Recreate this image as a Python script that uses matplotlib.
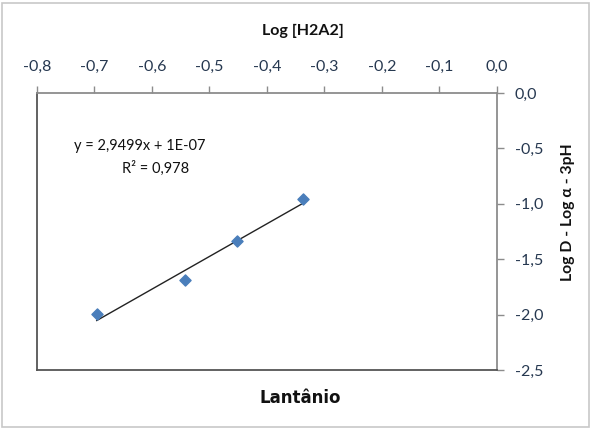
import numpy as np
import matplotlib.pyplot as plt
from matplotlib.patches import Rectangle
from matplotlib.ticker import FuncFormatter

# data
log_h2a2 = [-0.696, -0.543, -0.452, -0.337]
log_d = [-1.99, -1.69, -1.336, -0.957]
slope = 2.9499
intercept = 1e-07
equation = "y = 2,9499x + 1E-07"
r_squared = "R² = 0,978"

plt.rcParams["font.family"] = ["Lato", "DejaVu Sans"]
text_color = "#263850"
axis_color = "#8c8c8c"

fig = plt.figure(figsize=(5.91, 4.30), dpi=100)
fig.patches.append(Rectangle((0.004, 0.006), 0.992, 0.988, transform=fig.transFigure,
                             fill=False, edgecolor="#c8c8c8", linewidth=1.2))
ax = fig.add_axes([0.0626, 0.1395, 0.778, 0.644])

ax.scatter(log_h2a2, log_d, marker="D", s=32, color="#4a7ebb", zorder=3)
xs = np.array([min(log_h2a2), max(log_h2a2)])
ax.plot(xs, slope * xs + intercept, color="#222222", linewidth=1, zorder=2)

ax.set_xlim(-0.8, 0.0)
ax.set_ylim(-2.5, 0.0)
ax.set_xticks(np.arange(-0.8, 0.01, 0.1))
ax.set_yticks(np.arange(-2.5, 0.01, 0.5))
fmt = FuncFormatter(lambda v, p: f"{v:.1f}".replace(".", ",").replace("-0,0", "0,0"))
ax.xaxis.set_major_formatter(fmt)
ax.yaxis.set_major_formatter(fmt)

ax.xaxis.tick_top()
ax.yaxis.tick_right()
ax.tick_params(axis="x", direction="out", length=5, width=1, color=axis_color,
               labelcolor=text_color, labelsize=11.5, pad=9)
ax.tick_params(axis="y", direction="out", length=5, width=1, color=axis_color,
               labelcolor=text_color, labelsize=11.5, pad=8)

for side in ["left", "bottom"]:
    ax.spines[side].set_color("#555555")
    ax.spines[side].set_linewidth(1.3)
for side in ["top", "right"]:
    ax.spines[side].set_color(axis_color)
    ax.spines[side].set_linewidth(1.3)

ax.xaxis.set_label_position("top")
ax.set_xlabel("Log [H2A2]", fontsize=11.5, fontweight="bold", color="#111111")
ax.xaxis.label.set_va("center")
ax.xaxis.set_label_coords(0.578, 1.224)
ax.yaxis.set_label_position("right")
ax.set_ylabel("Log D - Log α - 3pH", fontsize=11.3, fontweight="bold",
              color="#111111", rotation=90)
ax.yaxis.label.set_va("center")
ax.yaxis.set_label_coords(1.154, 0.57)

ax.text(0.224, 0.809, equation, transform=ax.transAxes, ha="center",
        va="center", fontsize=10.5, color="#111111")
ax.text(0.257, 0.729, r_squared, transform=ax.transAxes, ha="center",
        va="center", fontsize=10.5, color="#111111")

fig.text(0.508, 0.074, "Lantânio", ha="center", va="center", fontsize=12,
         fontweight="bold", color="#111111", family="DejaVu Sans")

fig.savefig("out.png", dpi=100)
